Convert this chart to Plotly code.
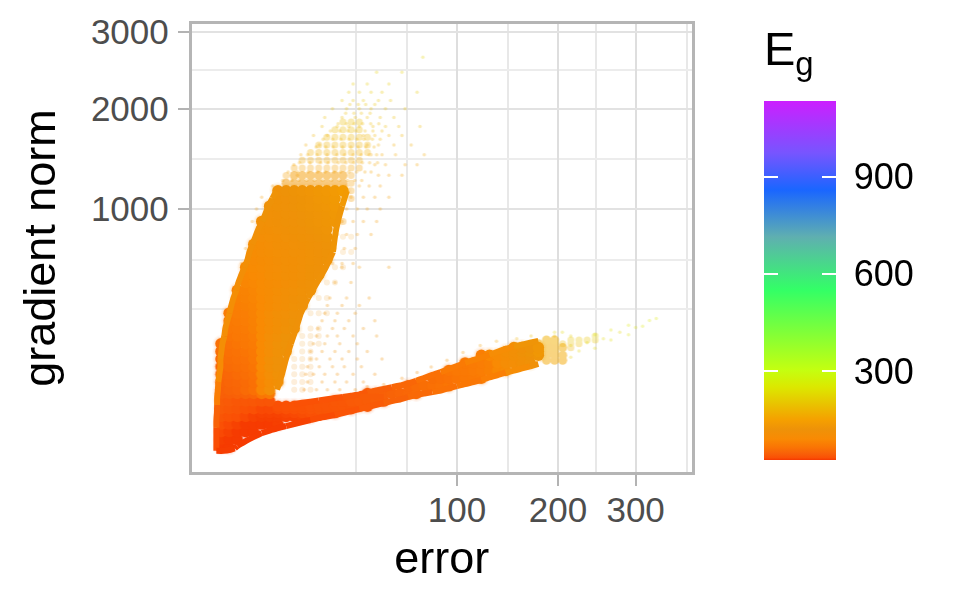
import numpy as np
import plotly.graph_objects as go
from plotly.colors import sample_colorscale

# Axis breaks
x_major = [100, 200, 300]
x_minor = [34.6, 63, 146, 247, 377]
y_major = [1000, 2000, 3000]
y_minor = [344, 623, 1456, 2480]

# Colour bar
eg_stops = [25, 32, 45, 65, 90, 120, 149, 250, 303, 550, 714, 859, 973, 1134]
eg_colors = ["#F53800", "#FA5005", "#F86008", "#FA7504", "#F98A03", "#EE9208", "#F5A000",
             "#DCE800", "#C4FF10", "#33FF66", "#5FAFB0", "#1A66FF", "#7755FF", "#CC1FFF"]
eg_ticks = [300, 600, 900]

# Dense body: (gradient norm, errors, Eg)
dense_rows = [
 (.25, [.11,.44], [26,26]),
 (2.25, [.11,.44,1], [27,26,26]),
 (6.25, [.11,.44,1,1.8,2.8], [30,28,26,26,26]),
 (12.25, [.11,.44,1,1.8,2.8,4,5.4,7.1], [32,30,28,26,26,26,26,27]),
 (20.25, [.11,.44,1,1.8,2.8,4,5.4,7.1,9,11.1,13.4,16], [36,34,32,30,28,27,27,27,28,28,29,30]),
 (25, [4,5.4,7.1,9,11.1,13.4,16,18.8,21.8,25], [28,28,28,29,30,31,32,33,34,35]),
 (30.25, [.11,.44,1,1.8,2.8,4,5.4,7.1,9,11.1,13.4,16,18.8,21.8,25,28.4,32.1], [40,38,36,34,32,30,30,31,32,33,34,35,36,36,37,38,38]),
 (34, [7.1,9,11.1,13.4,16,18.8,21.8,25,28.4,32.1,36,40.1], [32,33,34,34,35,36,36,37,38,38,39,40]),
 (42.25, [.11,.44,1,1.8,2.8,4,5.4,25,28.4,32.1,36,40.1,44.4,49], [42,40,38,38,38,36,36,38,38,40,41,42,44,44]),
 (56.25, [.11,.44,1,1.8,2.8,4,5.4,40.1,44.4,49,53.8,58.8,64,69.4], [44,44,46,48,50,65,70,42,44,46,48,50,52,55]),
 (64, [.11,.44,1,1.8,2.8,4,5.4], [45,48,50,55,60,85,105]),
 (72.25, [64,69.4,75.1,81,87.1,93.4], [52,55,58,60,62,65]),
 (81, [.11,.44,1,1.8,2.8,4,5.4,7.1], [48,50,52,55,60,85,100,110]),
 (90.25, [81,87.1,93.4,100,106.8,113.8,121], [58,60,62,65,68,70,72]),
 (100, [.11,.44,1,1.8,2.8,4,5.4,7.1], [50,52,55,58,62,88,105,115]),
 (110.25, [93.4,100,106.8,113.8,121,128.4,136.1,144], [65,68,70,72,74,78,88,95]),
 (121, [.11,.44,1,1.8,2.8,4,5.4,7.1], [52,55,58,60,65,90,108,118]),
 (132.25, [106.8,113.8,121,128.4,136.1,144,152.1,160.4,169], [70,72,74,78,90,100,105,110,115]),
 (144, [.11,.44,1,1.8,2.8,4,5.4,7.1], [55,58,60,62,68,90,108,118]),
 (156.25, [121,128.4,136.1,144,152.1,160.4,169,177.8], [76,88,95,102,108,112,118,124]),
 (169, [.11,.44,1,1.8,2.8,4,5.4,7.1,9,144,152.1,160.4,169,177.8], [58,60,62,65,70,90,105,115,120,104,110,116,122,130]),
 (182.25, [152.1,160.4,169,177.8], [108,114,120,128]),
 (196, [.11,.44,1,1.8,2.8,4,5.4,7.1,9], [60,62,65,68,72,90,105,115,120]),
 (225, [.44,1,1.8,2.8,4,5.4,7.1,9], [65,68,70,75,90,105,112,120]),
 (256, [.44,1,1.8,2.8,4,5.4,7.1,9,11.1], [68,70,72,78,90,102,110,115,120]),
 (289, [.44,1,1.8,2.8,4,5.4,7.1,9,11.1], [70,72,74,79,90,102,110,114,119]),
 (324, [.44,1,1.8,2.8,4,5.4,7.1,9,11.1], [72,74,76,80,90,100,108,112,118]),
 (361, [1,1.8,2.8,4,5.4,7.1,9,11.1,13.4], [76,78,82,90,98,105,110,115,118]),
 (400, [1,1.8,2.8,4,5.4,7.1,9,11.1,13.4], [78,80,84,91,98,105,110,114,118]),
 (441, [1,1.8,2.8,4,5.4,7.1,9,11.1,13.4,16], [80,82,85,92,98,104,108,112,115,118]),
 (484, [1.8,2.8,4,5.4,7.1,9,11.1,13.4,16], [85,88,92,98,102,106,110,114,118]),
 (529, [1.8,2.8,4,5.4,7.1,9,11.1,13.4,16,18.8], [88,90,94,100,104,108,110,112,116,118]),
 (576, [1.8,2.8,4,5.4,7.1,9,11.1,13.4,16,18.8], [90,92,96,101,105,108,110,112,116,118]),
 (625, [2.8,4,5.4,7.1,9,11.1,13.4,16,18.8,21.8], [95,98,102,106,108,110,112,115,117,120]),
 (676, [2.8,4,5.4,7.1,9,11.1,13.4,16,18.8,21.8], [98,100,104,107,109,111,113,115,118,120]),
 (729, [2.8,4,5.4,7.1,9,11.1,13.4,16,18.8,21.8], [100,102,105,108,110,112,114,116,118,121]),
 (784, [4,5.4,7.1,9,11.1,13.4,16,18.8,21.8], [105,107,110,112,114,116,118,120,122]),
 (841, [4,5.4,7.1,9,11.1,13.4,16,18.8,21.8], [108,110,112,114,116,118,120,122,124]),
 (900, [4,5.4,7.1,9,11.1,13.4,16,18.8,21.8,25], [110,112,114,116,118,120,122,124,126,128]),
 (961, [5.4,7.1,9,11.1,13.4,16,18.8,21.8,25], [112,114,116,118,120,122,124,126,130]),
 (1024, [5.4,7.1,9,11.1,13.4,16,18.8,21.8,25], [114,116,118,120,122,124,126,128,132]),
 (1089, [7.1,9,11.1,13.4,16,18.8,21.8,25], [116,118,120,122,125,128,130,134]),
 (1156, [7.1,9,11.1,13.4,16,18.8,21.8,25,28.4], [118,120,122,124,127,130,132,136,140]),
]

# Half-solid rim of the cloud: (gradient norm, errors, Eg)
upper_rows = [
 (1225, [9,11.1,13.4,16,18.8,21.8,25,28.4], 130),
 (1296, [11.1,13.4,16,18.8,21.8,25,28.4], 138),
 (140, [186.8,196,205.4], 158), (156.25, [186.8,196,205.4], 160), (169, [186.8,196], 162),
 (182.25, [186.8,196,205.4], 165), (196, [177.8,186.8,196], 165), (210, [186.8,196], 170),
]

# Outlines of the cloud: (error, gradient norm, Eg)
tip_edge = [(.02,0,28),(.2,0,26),(.5,.02,26),(.8,.1,26),(1,.4,26)]
left_edge = [
 (.02,0,28),(.02,1,30),(.02,4,32),(.02,9,36),(.02,16,42),(.027,25,50),(.03,36,60),(.03,49,70),
 (.042,64,80),(.05,81,88),(.07,100,92),(.094,121,98),(.094,144,100),(.12,169,104),(.15,196,106),(.22,225,105),(.26,256,105),
 (.35,289,104),(.46,324,104),(.57,361,104),(.71,400,104),(.93,441,104),(1.09,484,105),(1.36,529,106),(1.67,576,106),(2.01,625,108),
 (2.24,676,108),(2.62,729,110),(3.03,784,112),(3.48,841,114),(4.12,900,116),(4.63,961,118),(5.17,1024,120),(5.95,1089,122),
 (6.77,1156,124),
]
right_edge = [
 (6.9,64,108),(8,100,112),(8.95,144,116),(10.2,196,118),(11.6,256,118),(13,324,118),(15.2,400,118),(18.2,484,118),
 (21.4,576,118),(24.2,676,120),(25,784,122),(26.2,900,128),(28,1024,132),(30.1,1156,140),
]
bottom_edge = [
 (1,.4,26),(1.8,1.6,26),(2.8,3.3,26),(4,5.4,26),(5.4,7,26),(7.1,8.9,26),(9,10.5,27),(11.1,12.3,28),(13.4,14.2,28),(16,16.2,29),
 (18.8,18.4,30),(21.8,20.1,31),(25,21.9,33),(28.4,24.4,34),(32.1,27,36),(36,29.9,38),(40.1,32.8,40),(44.4,35.9,42),(49,39,44),
 (53.8,42.4,46),(58.8,45,48),(64,49.5,50),(69.4,53.3,52),(75.1,56.2,55),(81,59,58),(87.1,62,60),(93.4,67.4,62),(100,71.8,64),
 (106.8,76,66),(113.8,81,68),(121,85.7,70),(128.4,92,74),(136.1,98,78),(144,105,86),(152.1,110,98),(160.4,116,104),(169,122,110),
 (177.8,129,118),
]
top_edge = [
 (11.1,37.5,32),(13.4,39.4,33),(16,41.4,33),(18.8,43.5,34),(21.8,45.6,34),(25,47.7,35),(28.4,49.7,36),(32.1,52,37),
 (36,54.4,40),(40.1,58.1,42),(44.4,61.8,43),(49,65.6,45),(53.8,69.2,47),(58.8,72.9,50),(64,77.2,52),(69.4,83.9,55),
 (75.1,90.9,58),(81,98.6,62),(87.1,106,66),(93.4,114,70),(100,123,72),(106.8,132,74),(113.8,141,78),(121,149,82),
 (128.4,158,88),(136.1,168,96),(144,178,102),(152.1,187,112),(160.4,193,120),(169,200,128),(177.8,207,138),
]
arm_filler = [(36,50,40),(40.1,50,41),(44.4,50,42),(49,50,44)]

# Thinning cloud: (gradient norm, errors, Eg)
mid_rows = [
 (900, [28.4], 135), (1089, [28.4,32.1], 140), (1156, [32.1], 145),
 (1225, [32.1], 145),
 (1296, [9,32.1], 145),
 (1369, [11.1,13.4,16,18.8,21.8,25,28.4,32.1,36], 150),
 (1444, [13.4,16,18.8,21.8,25,28.4,32.1,36], 160),
 (1521, [16,18.8,21.8,25,28.4,32.1,36,40.1], 170),
 (1600, [18.8,21.8,25,28.4,32.1,36,40.1], 175),
 (1681, [21.8,25,28.4,32.1,36,40.1], 180),
 (1764, [25,28.4,32.1,36], 185),
 (1849, [28.4,32.1,36], 190),
 (182, [215.1], 175), (196, [205.4,215.1,225], 185), (210, [215.1,225,235.1,245.4], 200),
 (225, [245.4], 215),
]

# Wedge next to the upper lobe: (gradient norm, errors, Eg)
wedge_rows = [
 (64, [11.1,13.4,16], 110), (81, [11.1,13.4,16], 110), (100, [11.1,13.4,16], 112), (121, [11.1,13.4,16], 112),
 (144, [11.1,13.4,16], 115), (169, [13.4,16], 115), (196, [13.4,16,18.8], 115), (225, [13.4,16,18.8], 118),
 (256, [16,18.8], 118), (324, [16,18.8,21.8], 118), (400, [18.8,21.8], 120), (484, [21.8,25], 120), (576, [25,28.4], 122),
 (676, [28.4,32.1], 125), (784, [28.4,32.1], 128),
]

# Sparse speckle: (gradient norm, errors, Eg)
sparse_rows = [
 (64,[14,18,22,27,34],105),(81,[15,20,25,30,38],110),(100,[14.5,17,21,26,33,44],110),(121,[15,19,24,29,37],115),
 (144,[16,18,23,28,35,48],115),(169,[16,20,25,31,40],115),(196,[17,21,27,35],120),(225,[18,22,26,33,45],120),
 (256,[18.5,24,29,38],120),(289,[20,25,31,44],125),(324,[21,26,34],125),(361,[22,28,36],125),(400,[23,30,41],125),
 (484,[25,32],130),(576,[28,36,52],130),
 (600,[24,28,33,1.4],130),(700,[25,29,34,1.8],130),(800,[26,30,35,42],135),(900,[28,33,38,45,2.6],135),
 (1000,[30,35,40,47,3.2],140),(1100,[32,38,44,52,4],140),(1200,[30,36,41,47,6],145),
 (1250,[8.2,10.5,12.4,14.7,17.3,20.2,23.6,26.9,30.4,33.8,37.2],150),(1330,[9.5,12.1,15.2,18.4,21.2,24.7,27.3,31,34.6,38.8,42],155),
 (1420,[12.6,15.8,19.5,22.3,26.4,29.7,33.3,37.5,41.2,45.5],160),(1500,[15.1,18.2,21.9,25.8,29.1,33,36.9,41,45],165),
 (1580,[17.9,21.4,24.3,28.2,31.9,35.4,39.2,43.6],170),(1660,[20.4,24.1,27.5,31.1,34.8,38.3,42.7,47],175),
 (1750,[23.2,27,30.6,34.2,38.9,43,48],180),(1830,[26.3,30,33.5,37.6,41.8,46.2],185),(1950,[29.6,33.4,37,41.5],190),(2050,[31.5,35.5,39.2,44],195),
 (1300,[12,46,52,60],150),(1400,[11,44,50,62,70],155),(1500,[13,42,48,56,75],160),(1600,[14.5,19,40,46,55,66],165),
 (1700,[17,22,38,44,52,60],175),(1800,[20,26,31,36,43,50,58,72],185),(1900,[21,28,34,40,47,55],190),
 (2000,[24,30,36,42,50,62],195),(2100,[28,33,38,46,53],200),(2200,[31,36,42,48,70],205),(2300,[33,40,52],210),
 (2450,[45,60],215),(2650,[74],220),
 (70,[40],100),(75,[49],100),(90,[60],105),(105,[70],110),(120,[80],115),(140,[92],125),(165,[105],135),(190,[120],150),
 (205,[135],160),(215,[155],175),(225,[170,196],190),(240,[196,205,278],225),
 (150,[215],215),(170,[225],220),(180,[245],225),(190,[215],215),(200,[235],225),(210,[266],235),(215,[256],230),
 (225,[215],215),(230,[245,290],240),(250,[266],240),(260,[300],250),(265,[310],250),(270,[290],250),(290,[320],255),(300,[330],255),
]


def flat_single(rows):
    return ([e for r in rows for e in r[1]], [r[0] for r in rows for _ in r[1]], [r[2] for r in rows for _ in r[1]])


err_dense = [e for r in dense_rows for e in r[1]]
grad_dense = [r[0] for r in dense_rows for _ in r[1]]
eg_dense = [g for r in dense_rows for g in r[2]]

FONT = "Liberation Sans"
W, H = 960, 600
PAGE = 8  # default body margin of the page


def px_x(x):
    return (x - PAGE) / W


def px_y(y):
    return 1 - (y - PAGE) / H


span = eg_stops[-1] - eg_stops[0]
scale = [[(v - eg_stops[0]) / span, c] for v, c in zip(eg_stops, eg_colors)]
fig = go.Figure()


def cloud(errs, grads, egs, size, opacity):
    fig.add_trace(go.Scatter(
        x=np.sqrt(errs), y=np.sqrt(grads), mode="markers", opacity=opacity, showlegend=False,
        hoverinfo="skip",
        marker=dict(size=size, color=egs, coloraxis="coloraxis", line=dict(width=0)),
    ))


def stroke(points, width=6, step=3):
    for i in range(0, len(points) - 1, step):
        chunk = points[i:i + step + 1]
        errs, grads, egs = zip(*chunk)
        color = sample_colorscale(scale, (np.mean(egs) - eg_stops[0]) / span)[0]
        fig.add_trace(go.Scatter(
            x=np.sqrt(errs), y=np.sqrt(grads), mode="lines", showlegend=False, hoverinfo="skip",
            line=dict(color=color, width=width, shape="spline", smoothing=.6),
        ))


cloud(*flat_single(wedge_rows), 6, .14)
cloud(*flat_single(mid_rows), 7, .3)
cloud(*flat_single(sparse_rows), 3.5, .28)
cloud(err_dense, grad_dense, eg_dense, 17, .06)
cloud(err_dense, grad_dense, eg_dense, 14, .12)
cloud(*flat_single(upper_rows), 9, .5)
cloud(err_dense, grad_dense, eg_dense, 11.5, 1)
for outline in (right_edge, left_edge, bottom_edge, top_edge, tip_edge):
    stroke(outline)
stroke(arm_filler)

# Dummy carrier for the left-hand white ticks of the colour bar
fig.add_trace(go.Scatter(x=[None, None], y=[None, None], mode="markers", showlegend=False, hoverinfo="skip",
                         marker=dict(color=[eg_stops[0], eg_stops[-1]], coloraxis="coloraxis2")))

BAR_TOP, BAR_BOTTOM, BAR_LEFT, BAR_WIDTH = 101, 460, 764, 72

fig.update_layout(
    width=W, height=H, margin=dict(l=0, r=0, t=0, b=0, autoexpand=False), autosize=False,
    paper_bgcolor="white", plot_bgcolor="white",
    font=dict(family=FONT, size=33, color="#000000"),
    annotations=[dict(text="E<sub>g</sub>", xref="paper", yref="paper", x=px_x(BAR_LEFT - 2), y=px_y(20),
                      xanchor="left", yanchor="top", showarrow=False, align="left",
                      font=dict(family=FONT, size=47, color="black"))],
    coloraxis=dict(
        cmin=eg_stops[0], cmax=eg_stops[-1], colorscale=scale,
        colorbar=dict(
            x=px_x(BAR_LEFT), xanchor="left", y=px_y(BAR_TOP), yanchor="top",
            thicknessmode="pixels", thickness=BAR_WIDTH, lenmode="pixels", len=BAR_BOTTOM - BAR_TOP,
            xpad=0, ypad=0, outlinewidth=0, ticks="inside", ticklen=14, tickwidth=1.5, tickcolor="white",
            tickmode="array", tickvals=eg_ticks, ticktext=["\u00a0" + str(v) for v in eg_ticks],
            tickfont=dict(family=FONT, size=36, color="black"),
        ),
    ),
    coloraxis2=dict(
        cmin=eg_stops[0], cmax=eg_stops[-1],
        colorscale=[[0, "rgba(0,0,0,0)"], [1, "rgba(0,0,0,0)"]],
        colorbar=dict(
            x=px_x(BAR_LEFT), xanchor="left", y=px_y(BAR_TOP), yanchor="top",
            thicknessmode="pixels", thickness=14, lenmode="pixels", len=BAR_BOTTOM - BAR_TOP,
            xpad=0, ypad=0, outlinewidth=0, ticks="inside", ticklen=14, tickwidth=1.5, tickcolor="white",
            tickmode="array", tickvals=eg_ticks, showticklabels=False,
        ),
    ),
    xaxis=dict(
        domain=[px_x(191.5), px_x(692)], range=[-.877, 19.63],
        tickmode="array", tickvals=np.sqrt(x_major), ticktext=[str(v) for v in x_major],
        ticks="outside", ticklen=11, tickwidth=2, tickcolor="#B3B3B3",
        tickfont=dict(family=FONT, size=35, color="#4D4D4D"), ticklabelstandoff=-6,
        showgrid=True, gridcolor="#DEDEDE", gridwidth=2,
        minor=dict(tickmode="array", tickvals=np.sqrt(x_minor), showgrid=True, gridcolor="#E8E8E8", gridwidth=1.5, ticks=""),
        showline=True, mirror=True, linecolor="#B5B5B5", linewidth=2.5, zeroline=False,
        title=dict(text="error", font=dict(family=FONT, size=45, color="black"), standoff=14),
    ),
    yaxis=dict(
        domain=[px_y(472), px_y(24)], range=[-2.77, 55.82],
        tickmode="array", tickvals=np.sqrt(y_major), ticktext=[str(v) for v in y_major],
        ticks="outside", ticklen=11, tickwidth=2, tickcolor="#B3B3B3",
        tickfont=dict(family=FONT, size=35, color="#4D4D4D"), ticklabelstandoff=2,
        showgrid=True, gridcolor="#E2E2E2", gridwidth=2,
        minor=dict(tickmode="array", tickvals=np.sqrt(y_minor), showgrid=True, gridcolor="#ECECEC", gridwidth=1.5, ticks=""),
        showline=True, mirror=True, linecolor="#B5B5B5", linewidth=2.5, zeroline=False,
        title=dict(text="gradient norm", font=dict(family=FONT, size=45, color="black"), standoff=22),
    ),
)
fig.write_html("out.html")
